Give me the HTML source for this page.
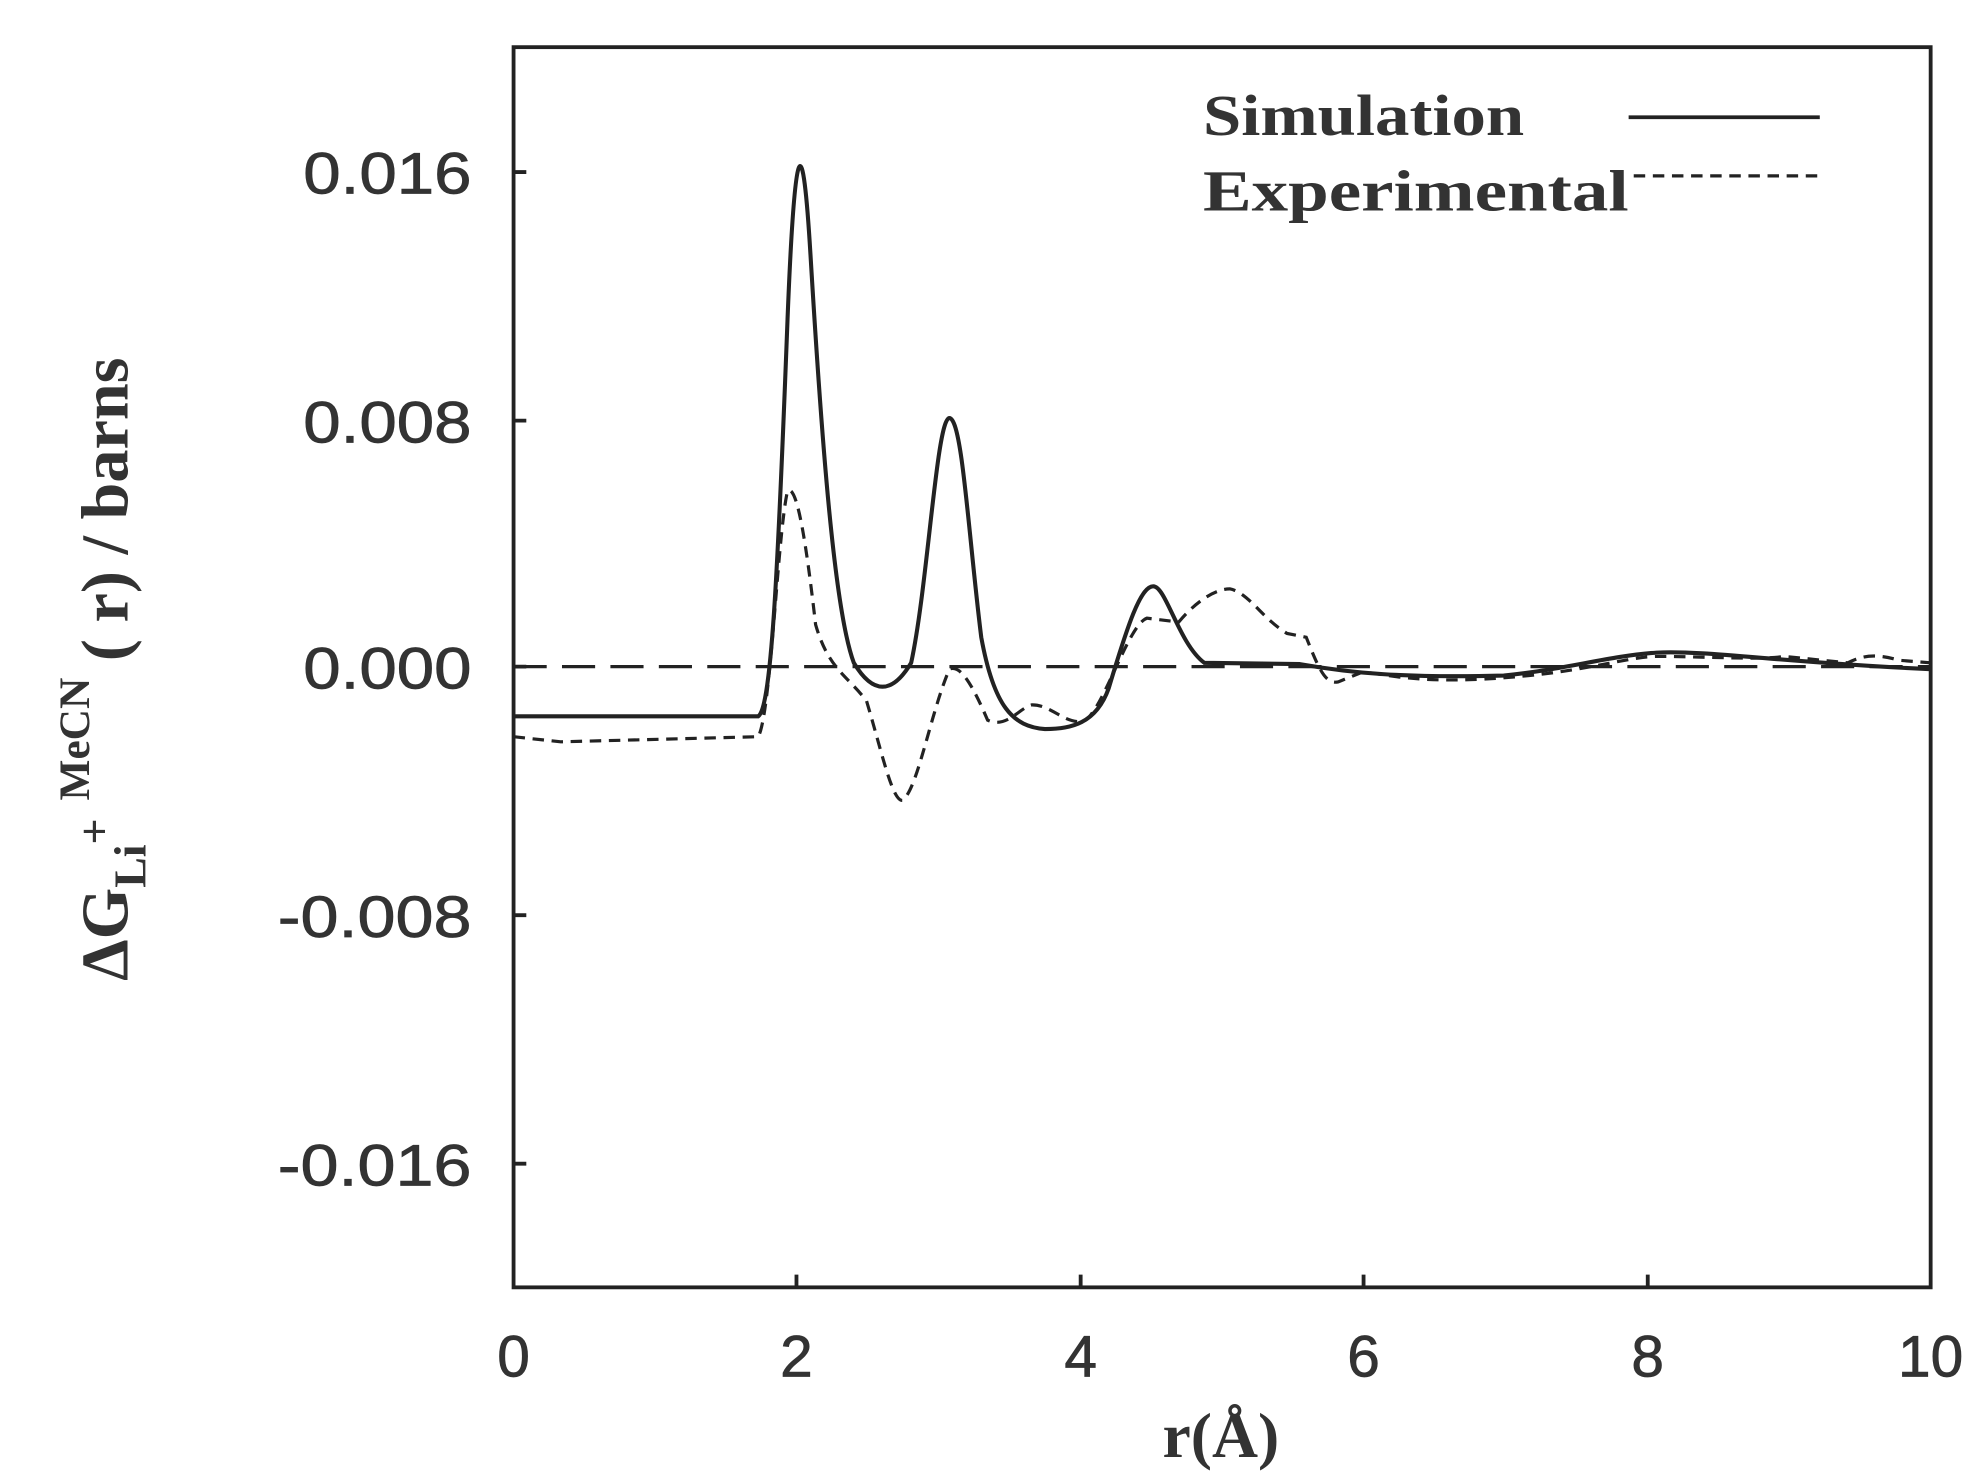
<!DOCTYPE html>
<html><head><style>html,body{margin:0;padding:0;background:#fff}svg{display:block}</style></head>
<body>
<svg width="1988" height="1476" viewBox="0 0 1560 1158" preserveAspectRatio="none" xmlns="http://www.w3.org/2000/svg">
<rect width="1560" height="1158" fill="#fff"/>
<g fill="none" stroke="#222" stroke-width="3">
<rect x="403" y="37" width="1112" height="973"/>
<path d="M403 135h10M403 330h10M403 523h10M403 718h10M403 913h10M625 1010v-10M848 1010v-10M1070 1010v-10M1293 1010v-10"/>
</g>
<g font-family="Liberation Sans, sans-serif" font-size="46" fill="#333" stroke="#333" stroke-width="0.6">
<g text-anchor="end"><text x="370" y="152" textLength="132" lengthAdjust="spacingAndGlyphs">0.016</text><text x="370" y="347" textLength="132" lengthAdjust="spacingAndGlyphs">0.008</text><text x="370" y="540" textLength="132" lengthAdjust="spacingAndGlyphs">0.000</text><text x="370" y="735" textLength="152" lengthAdjust="spacingAndGlyphs">-0.008</text><text x="370" y="930" textLength="152" lengthAdjust="spacingAndGlyphs">-0.016</text></g>
<g text-anchor="middle"><text x="403" y="1080">0</text><text x="625" y="1080">2</text><text x="848" y="1080">4</text><text x="1070" y="1080">6</text><text x="1293" y="1080">8</text><text x="1515" y="1080">10</text></g>
</g>
<text x="958" y="1143" text-anchor="middle" font-family="Liberation Serif, serif" font-weight="bold" font-size="50" fill="#333">r(Å)</text>
<g transform="translate(100,525) rotate(-90)" font-family="Liberation Serif, serif" font-weight="bold" fill="#333" text-anchor="middle">
<text x="0" y="0" font-size="52">ΔG<tspan font-size="36" dy="14">Li</tspan><tspan font-size="36" dy="-28">+</tspan><tspan font-size="34" dy="-16" dx="14">MeCN</tspan><tspan font-size="52" dy="30"> ( r) / barns</tspan></text>
</g>
<g font-family="Liberation Serif, serif" font-weight="bold" font-size="46" fill="#333">
<text x="944" y="106" textLength="252" lengthAdjust="spacingAndGlyphs">Simulation</text><text x="944" y="165" textLength="334" lengthAdjust="spacingAndGlyphs">Experimental</text>
</g>
<path d="M1278 92H1428" stroke="#222" stroke-width="3"/>
<path d="M1282 138H1432" stroke="#222" stroke-width="2.5" stroke-dasharray="9 6"/>
<path d="M403 523H1515" stroke="#222" stroke-width="2.5" stroke-dasharray="26 12"/>
<path d="M403 562L595 562C605 555 610 460 618 250C624 100 630 100 636 200C645 350 655 480 670 520C685 545 700 545 715 520C728 460 735 328 745 328C755 328 760 420 770 500C780 555 795 570 820 572C840 572 860 568 870 540C885 490 895 460 905 460C915 460 925 505 945 520L1020 521C1060 528 1100 532 1180 530C1230 525 1260 515 1300 512C1340 510 1400 520 1515 525" fill="none" stroke="#222" stroke-width="3.2"/>
<path d="M403 578L440 582L595 578C605 560 610 420 618 385C625 380 632 420 640 490C650 525 665 530 680 550C692 590 700 628 708 628C720 620 730 560 745 525C752 522 760 530 775 565C790 572 800 555 810 553C825 553 835 568 850 566C865 560 885 490 900 485L925 488C940 470 955 462 965 462C980 465 990 485 1010 497L1025 500C1035 525 1040 537 1050 535L1070 527C1100 532 1130 537 1200 530C1250 525 1280 515 1300 515C1340 515 1380 518 1400 515L1450 520C1460 515 1470 512 1490 518L1515 520" fill="none" stroke="#222" stroke-width="2.5" stroke-dasharray="9 6"/>
</svg>
</body></html>
